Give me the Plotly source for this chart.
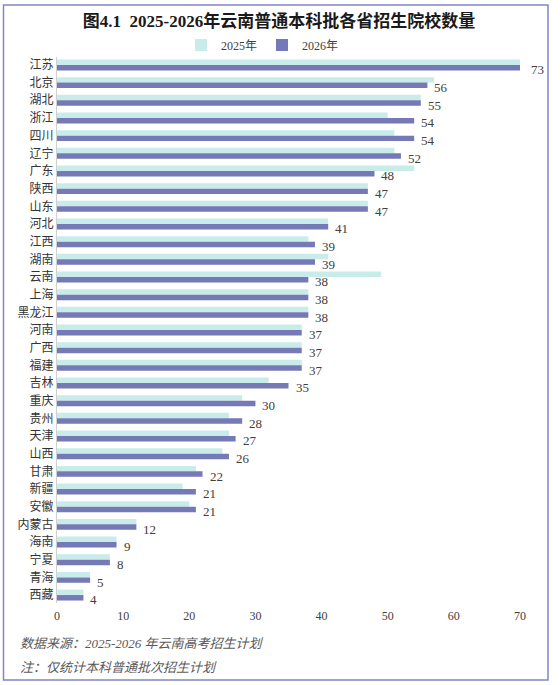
import plotly.graph_objects as go

provinces = ["江苏", "北京", "湖北", "浙江", "四川", "辽宁", "广东", "陕西", "山东", "河北",
             "江西", "湖南", "云南", "上海", "黑龙江", "河南", "广西", "福建", "吉林", "重庆",
             "贵州", "天津", "山西", "甘肃", "新疆", "安徽", "内蒙古", "海南", "宁夏", "青海", "西藏"]
v2025 = [72, 57, 55, 50, 51, 51, 54, 47, 47, 41,
         38, 41, 49, 38, 38, 37, 37, 37, 32, 28,
         26, 26, 25, 21, 19, 20, 12, 9, 8, 5, 4]
v2026 = [73, 56, 55, 54, 54, 52, 48, 47, 47, 41,
         39, 39, 38, 38, 38, 37, 37, 37, 35, 30,
         28, 27, 26, 22, 21, 21, 12, 9, 8, 5, 4]
x_ticks = [0, 10, 20, 30, 40, 50, 60, 70]
series_names = ["2025年", "2026年"]

W, H = 560, 685
L, R, T, B = 57, 40, 57, 82
pw, ph = W - L - R, H - T - B
X_MAX = 70


def pxx(p):  # pixel x -> paper
    return (p - L) / pw


def pxy(p):  # pixel y -> paper
    return (H - B - p) / ph


BARGAP = 0.38
idx = list(range(len(provinces)))

FONT = "Liberation Serif, Noto Sans CJK SC, serif"
TXT = "#404040"

fig = go.Figure()
fig.add_trace(go.Bar(y=idx, x=v2025, orientation="h", name=series_names[0],
                     marker=dict(color="#c8ecea", line=dict(width=0))))
fig.add_trace(go.Bar(y=idx, x=v2026, orientation="h", name=series_names[1],
                     marker=dict(color="#7579b5", line=dict(width=0))))

# data labels next to the 2026 bars
for i, v in zip(idx, v2026):
    over = v > X_MAX
    fig.add_annotation(x=v / X_MAX if over else v, xref="x domain" if over else "x",
                       y=i + (1 - BARGAP) / 4, yref="y", text=str(v),
                       showarrow=False, xanchor="center" if over else "left",
                       xshift=-2 if over else 5, yshift=-2,
                       font=dict(size=13, color=TXT, family=FONT))

fig.update_layout(
    width=W, height=H,
    margin=dict(l=L, r=R, t=T, b=B, autoexpand=False),
    paper_bgcolor="white", plot_bgcolor="white",
    barmode="group", bargap=BARGAP, bargroupgap=0,
    font=dict(family=FONT, size=12, color=TXT),
    title=dict(text="<b>图4.1  2025-2026年云南普通本科批各省招生院校数量</b>",
               x=279 / W, xanchor="center", y=1 - 21 / H, yanchor="middle",
               yref="container", font=dict(size=17, color="#1a1a1a", family=FONT)),
    legend=dict(orientation="h", x=pxx(262), xanchor="center", y=pxy(45), yanchor="middle",
                font=dict(size=12, color=TXT, family=FONT), itemwidth=30,
                entrywidth=36, entrywidthmode="pixels",
                bgcolor="rgba(0,0,0,0)", tracegroupgap=0),
    xaxis=dict(range=[0, X_MAX], tickvals=x_ticks, showgrid=False, zeroline=False,
               showline=False, ticks="", automargin=False, ticklabelstandoff=4,
               tickfont=dict(size=12, color=TXT, family=FONT)),
    yaxis=dict(range=[len(provinces) - 0.55, -0.45], tickvals=idx, ticktext=provinces,
               showgrid=False, zeroline=False, showline=True, linecolor="#d0d0d0", linewidth=1,
               ticks="", automargin=False,
               tickfont=dict(size=12, color="#333333", family=FONT)),
    showlegend=True,
)

fig.add_shape(type="rect", xref="paper", yref="paper",
              x0=pxx(3.5), x1=pxx(548), y0=pxy(680), y1=pxy(5),
              line=dict(color="#8585c2", width=1.5), fillcolor="rgba(0,0,0,0)", layer="above")

fig.add_annotation(text="<i>数据来源：2025-2026 年云南高考招生计划</i>", xref="paper", yref="paper",
                   x=pxx(18), y=pxy(643), xanchor="left", yanchor="middle", showarrow=False,
                   font=dict(size=13, color="#595959", family=FONT))
fig.add_annotation(text="<i>注：仅统计本科普通批次招生计划</i>", xref="paper", yref="paper",
                   x=pxx(18), y=pxy(667), xanchor="left", yanchor="middle", showarrow=False,
                   font=dict(size=13, color="#595959", family=FONT))

fig.write_html("out.html", config={"displayModeBar": False},
               post_script="document.body.style.margin='0';")
